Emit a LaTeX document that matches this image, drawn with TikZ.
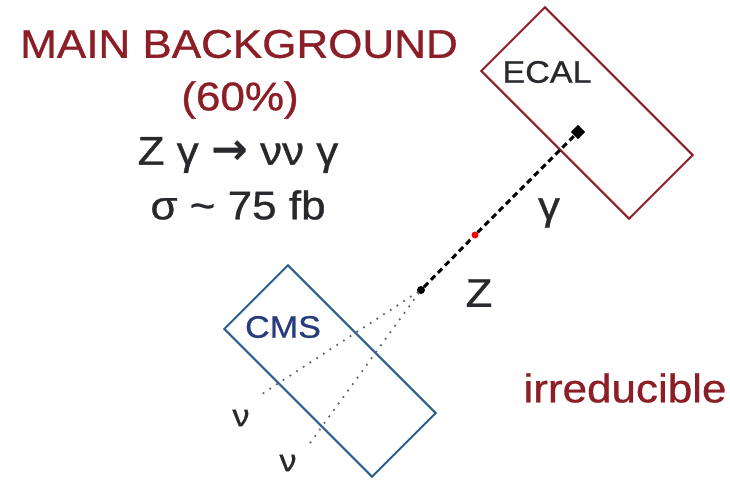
\documentclass[tikz,border=0pt]{standalone}
\usepackage{fontspec}
\setmainfont{Liberation Sans}[FakeStretch=1.1,FakeBold=0.8]
\newfontfamily\arrowfont{DejaVu Sans Bold}
\usepackage{xcolor}
\usepackage{tikz}
\definecolor{bgred}{RGB}{139,30,38}
\definecolor{cmsblue}{RGB}{45,95,145}
\definecolor{cmstext}{RGB}{40,60,125}
\definecolor{darkgray}{RGB}{40,40,45}

\begin{document}
\begin{tikzpicture}[x=1pt,y=-1pt,
  big/.style={font=\fontsize{40}{48}\selectfont},
  small/.style={font=\fontsize{31}{36}\selectfont},
  detector/.style={draw=#1,line width=2pt,rotate=-45,
                   minimum width=209pt,minimum height=90pt},
  dot/.style={fill=#1,circle,inner sep=0pt,minimum size=8pt}]
  \useasboundingbox (0,0) rectangle (730,480);
  % title block
  \node[big,text=bgred] (title) at (239,44) {MAIN BACKGROUND};
  \node[big,text=bgred] (share) at (240,100) {(60\%)};
  \node[big,text=darkgray] (proc) at (238,155) {Z γ {\arrowfont\fontsize{44}{48}\selectfont →} νν γ};
  \node[big,text=darkgray] (xsec) at (238,205) {σ \textasciitilde{} 75 fb};
  % detectors
  \node[detector=bgred] (ecal) at (587,113) {};
  \node[detector=cmsblue] (cms) at (330,371) {};
  \node[small,text=darkgray] (ecallabel) at (547,72) {ECAL};
  \node[small,text=cmstext] (cmslabel) at (283,327) {CMS};
  % decay
  \node[dot=black] (z) at (421,290) {};
  \node[dot=red,minimum size=7pt] (mid) at (475,235) {};
  \node[fill=black,rotate=45,inner sep=0pt,minimum size=10pt] (hit) at (578,132) {};
  \coordinate (nua) at (262,394);
  \coordinate (nub) at (310,443);
  \draw[line width=3pt,dash pattern=on 6pt off 4pt] (z) -- (mid);
  \draw[line width=3pt,dash pattern=on 6pt off 4pt] (mid) -- (hit);
  \foreach \e in {nua,nub}{
    \draw[gray!80!black,line width=2.5pt,line cap=round,dash pattern=on 0pt off 8pt] (z) -- (\e);
  }
  \node[big,text=darkgray] (zlabel) at (479,293) {Z};
  \node[big,text=darkgray] (glabel) at (549,213) {γ};
  \node[small,text=darkgray] (nualabel) at (241,418) {ν};
  \node[small,text=darkgray] (nublabel) at (288,463) {ν};
  \node[big,text=bgred] (irr) at (625,388) {irreducible};
\end{tikzpicture}
\end{document}
